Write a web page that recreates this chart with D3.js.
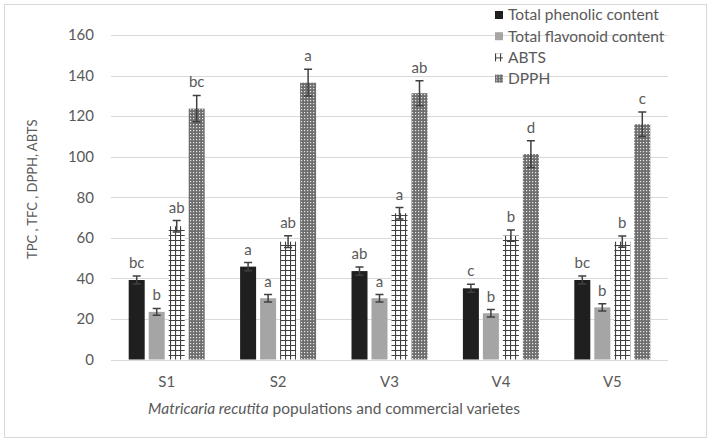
<!DOCTYPE html>
<html>
<head>
<meta charset="utf-8">
<script src="https://cdn.jsdelivr.net/npm/d3@7"></script>
<style>
  html, body { margin: 0; padding: 0; background: #fff; }
  text { font-family: Lato, "Noto Sans", sans-serif; fill: #595959; }
</style>
</head>
<body>
<svg id="chart" width="715" height="446"></svg>
<script>
// Data
const categories = ["S1", "S2", "V3", "V4", "V5"];
const seriesNames = ["Total phenolic content", "Total flavonoid content", "ABTS", "DPPH"];
const tpc = [39.2, 45.8, 43.6, 35.1, 39.2];
const tpcErr = [2.0, 2.0, 2.0, 2.0, 2.0];
const tfc = [23.5, 30.2, 30.2, 22.8, 25.7];
const tfcErr = [1.7, 1.8, 1.8, 1.8, 1.8];
const abts = [65.7, 58.1, 72.1, 61.1, 58.1];
const abtsErr = [2.8, 2.9, 2.8, 2.8, 2.8];
const dpph = [123.7, 136.5, 131.3, 101.3, 116.0];
const dpphErr = [6.5, 6.6, 6.2, 6.6, 6.0];
const tpcLetters = ["bc", "a", "ab", "c", "bc"];
const tfcLetters = ["b", "a", "a", "b", "b"];
const abtsLetters = ["ab", "ab", "a", "b", "b"];
const dpphLetters = ["bc", "a", "ab", "d", "c"];
const yTicks = [0, 20, 40, 60, 80, 100, 120, 140, 160];

const values = [tpc, tfc, abts, dpph];
const errors = [tpcErr, tfcErr, abtsErr, dpphErr];
const letters = [tpcLetters, tfcLetters, abtsLetters, dpphLetters];

const margin = { top: 35, right: 47, bottom: 86.5, left: 111 };
const width = 715, height = 446;

const $svg = d3.select("#chart");

// Patterns
const defs = $svg.append("defs");
const grid = defs.append("pattern")
    .attr("id", "pat-abts")
    .attr("patternUnits", "userSpaceOnUse")
    .attr("width", 5).attr("height", 5);
grid.append("rect").attr("width", 5).attr("height", 5).attr("fill", "#fff");
grid.append("path").attr("d", "M0.5,0V5M0,0.5H5")
    .attr("stroke", "#404040").attr("stroke-width", 1.2).attr("fill", "none");

const dots = defs.append("pattern")
    .attr("id", "pat-dpph")
    .attr("patternUnits", "userSpaceOnUse")
    .attr("width", 3).attr("height", 3);
dots.append("rect").attr("width", 3).attr("height", 3).attr("fill", "#6e6e6e");
dots.append("rect").attr("x", 1).attr("y", 1).attr("width", 1.2).attr("height", 1.2).attr("fill", "#e8e8e8");

const fills = ["#1f1f1f", "#a5a5a5", "url(#pat-abts)", "url(#pat-dpph)"];

// Chart frame
$svg.append("rect")
    .attr("x", 4.5).attr("y", 4.5)
    .attr("width", 702).attr("height", 433)
    .attr("fill", "none").attr("stroke", "#d9d9d9");

// Scales
const x = d3.scaleBand()
    .domain(categories)
    .range([margin.left, width - margin.right]);

const groupWidth = 76;
const xs = d3.scaleBand()
    .domain(d3.range(seriesNames.length))
    .range([0, groupWidth])
    .paddingInner(0.2);

const y = d3.scaleLinear()
    .domain([0, 160])
    .range([height - margin.bottom, margin.top]);

// Grid
$svg.append("g")
    .selectAll("line")
    .data(yTicks)
    .join("line")
      .attr("x1", margin.left)
      .attr("x2", width - margin.right)
      .attr("y1", d => Math.round(y(d)) + 0.5)
      .attr("y2", d => Math.round(y(d)) + 0.5)
      .attr("stroke", "#d9d9d9")
      .attr("stroke-width", 1);

// Y axis
const yAxis = d3.axisLeft(y).tickValues(yTicks).tickSize(0).tickPadding(17);
$svg.append("g")
    .attr("transform", `translate(${margin.left},0)`)
    .call(yAxis)
    .call(g => g.select(".domain").remove())
    .call(g => g.selectAll("text")
        .attr("font-size", 15)
        .attr("font-family", "Lato, sans-serif")
        .attr("fill", "#595959"));

// X axis
const xAxis = d3.axisBottom(x).tickSize(0).tickPadding(17);
$svg.append("g")
    .attr("transform", `translate(0,${y(0)})`)
    .call(xAxis)
    .call(g => g.select(".domain").remove())
    .call(g => g.selectAll("text")
        .attr("font-size", 15)
        .attr("font-family", "Lato, sans-serif")
        .attr("fill", "#595959"));

// Bars
const groupOffset = (x.bandwidth() - groupWidth) / 2;
const barData = [];
categories.forEach((c, i) => {
    values.forEach((vals, s) => {
        barData.push({ cat: c, s, v: vals[i], e: errors[s][i], lab: letters[s][i] });
    });
});

const $bars = $svg.append("g");
const bx = d => x(d.cat) + groupOffset + xs(d.s);

$bars.selectAll("rect")
    .data(barData)
    .join("rect")
      .attr("x", bx)
      .attr("y", d => y(d.v))
      .attr("width", xs.bandwidth())
      .attr("height", d => y(0) - y(d.v))
      .attr("fill", d => fills[d.s]);

// Error bars
const $err = $svg.append("g")
    .attr("stroke", "#404040")
    .attr("stroke-width", 1.5);
$err.selectAll("path")
    .data(barData)
    .join("path")
      .attr("fill", "none")
      .attr("d", d => {
          const cx = bx(d) + xs.bandwidth() / 2;
          const t = y(d.v + d.e), b = y(d.v - d.e);
          return `M${cx - 4},${t}H${cx + 4}M${cx},${t}V${b}M${cx - 4},${b}H${cx + 4}`;
      });

// Significance letters
$svg.append("g")
    .selectAll("text")
    .data(barData)
    .join("text")
      .attr("x", d => bx(d) + xs.bandwidth() / 2)
      .attr("y", d => y(d.v + d.e) - 8)
      .attr("text-anchor", "middle")
      .attr("font-size", 15)
      .text(d => d.lab);

// Axis titles
$svg.append("text")
    .attr("transform", `translate(37,${(margin.top + y(0)) / 2 - 8}) rotate(-90)`)
    .attr("text-anchor", "middle")
    .attr("font-size", 13)
    .text("TPC , TFC , DPPH, ABTS");

const xt = $svg.append("text")
    .attr("x", 334)
    .attr("y", 414)
    .attr("text-anchor", "middle")
    .attr("font-size", 15.5);
xt.append("tspan").attr("font-style", "italic").text("Matricaria recutita");
xt.append("tspan").text(" populations and commercial varietes");

// Legend
const $legend = $svg.append("g").attr("transform", "translate(495,15)");
const items = $legend.selectAll("g")
    .data(seriesNames)
    .join("g")
      .attr("transform", (d, i) => `translate(0,${i * 21.2})`);
items.append("rect")
    .attr("x", 0).attr("y", -4)
    .attr("width", 8).attr("height", 8)
    .attr("fill", (d, i) => fills[i]);
items.append("text")
    .attr("x", 13)
    .attr("dy", "0.35em")
    .attr("font-size", 15.5)
    .text(d => d);
</script>
</body>
</html>
